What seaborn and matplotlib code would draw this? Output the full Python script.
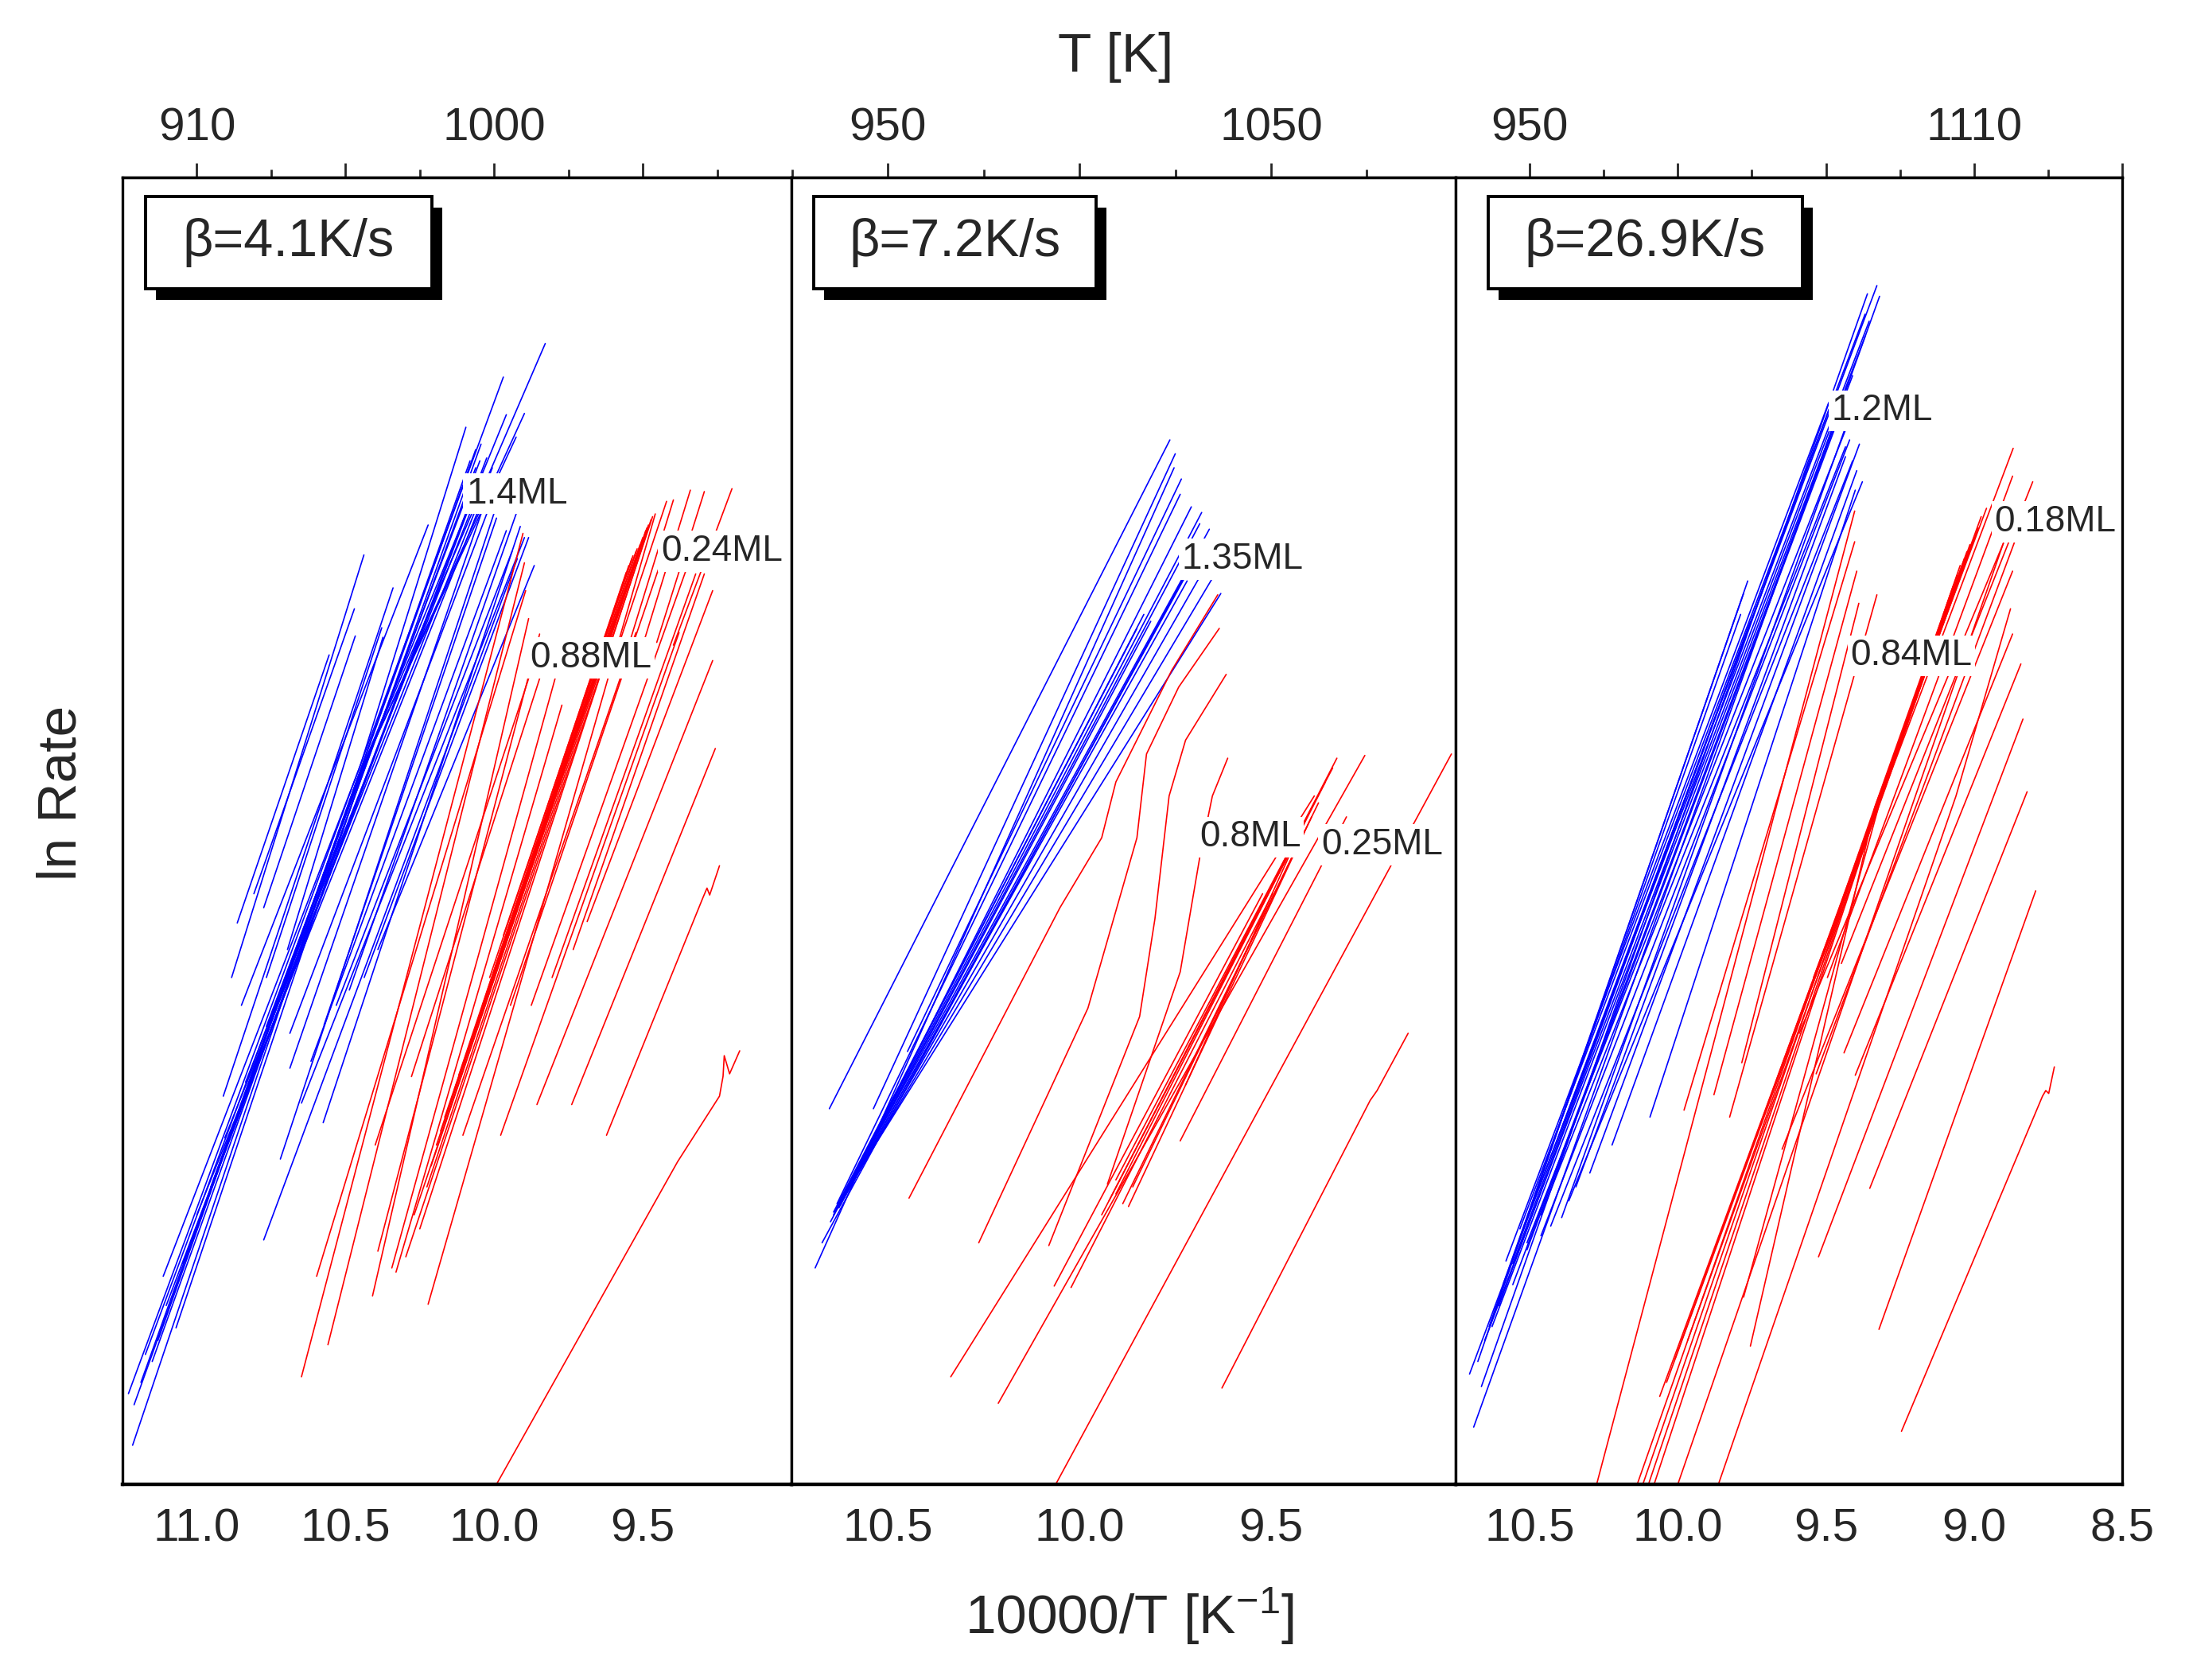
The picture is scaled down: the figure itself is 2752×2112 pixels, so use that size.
import matplotlib
matplotlib.use("Agg")
import matplotlib.pyplot as plt
import seaborn as sns
import pandas as pd
from matplotlib.patches import Rectangle

sns.set_style("white")
plt.rcParams['font.family'] = ['Liberation Sans', 'DejaVu Sans']
plt.rcParams['mathtext.default'] = 'regular'

# ---- data: x = 10000/T [1/K], y = ln rate (arbitrary units) ----
# panel 1, beta = 4.1 K/s
p1_blue_x = [
    [11.216, 10.46, 9.828], [11.230, 10.47, 9.969], [11.211, 10.44, 9.959], [11.173, 10.43, 9.898],
    [11.070, 10.42, 9.926], [11.113, 10.45, 10.095],
    [11.188, 10.062], [11.150, 10.044], [11.131, 10.081], [11.103, 10.025], [11.047, 10.039], [11.000, 10.015],
    [10.953, 10.062], [10.906, 10.006], [10.836, 10.034], [10.766, 10.048],
    [10.864, 10.555], [10.808, 10.470], [10.911, 10.340], [10.850, 10.222],
    [10.775, 10.467], [10.883, 10.438], [10.766, 10.378], [10.695, 10.374],
    [10.687, 10.044], [10.687, 10.025], [10.575, 9.912], [10.572, 9.992], [10.487, 9.926], [10.775, 9.922],
    [10.719, 10.001], [10.648, 9.898], [10.616, 9.959], [10.531, 9.940], [10.437, 9.884], [10.391, 9.865]]
p1_blue_y = [
    [0.299, 5.40, 8.729], [0.694, 5.38, 8.472], [0.609, 5.50, 8.184], [0.994, 5.55, 8.194],
    [1.197, 5.60, 8.013], [1.592, 5.50, 8.088],
    [0.780, 7.917], [0.940, 7.959], [1.100, 7.831], [1.368, 7.853], [1.688, 7.746], [2.062, 7.671],
    [2.276, 7.778], [2.650, 7.778], [3.077, 7.703], [3.504, 7.831],
    [4.295, 6.346], [4.519, 6.699], [2.970, 6.859], [3.665, 7.340],
    [4.412, 6.491], [3.878, 7.111], [3.878, 6.554], [4.092, 6.481],
    [3.184, 7.425], [3.451, 7.425], [2.767, 7.329], [3.515, 7.393], [3.782, 7.425], [1.870, 7.083],
    [2.489, 7.425], [2.917, 7.244], [3.237, 7.297], [3.665, 7.137], [3.878, 7.244], [4.092, 7.030]]
p1_red_x = [
    [10.648, 9.903], [10.559, 9.898], [10.597, 9.894], [10.409, 9.884], [10.391, 9.847], [10.344, 9.795],
    [10.330, 9.772], [10.400, 9.884], [10.278, 9.847],
    [10.222, 9.458], [10.250, 9.472], [10.226, 9.481], [10.194, 9.490], [10.166, 9.500], [10.133, 9.509],
    [10.100, 9.523], [10.062, 9.537], [10.015, 9.556], [9.969, 9.570],
    [10.297, 9.467], [10.269, 9.486], [10.212, 9.504], [10.180, 9.519], [10.119, 9.533], [10.039, 9.547],
    [10.105, 9.523], [9.978, 9.378], [9.856, 9.265], [9.739, 9.256],
    [9.622, 9.298, 9.284, 9.275, 9.242],
    [9.992, 9.383, 9.242, 9.230, 9.226, 9.208, 9.174],
    [9.945, 9.448], [9.875, 9.354], [9.805, 9.322], [9.734, 9.293], [9.687, 9.265],
    [9.594, 9.420], [9.556, 9.397], [9.500, 9.340], [9.453, 9.293], [9.397, 9.200]]
p1_red_y = [
    [0.823, 7.276], [1.068, 7.051], [1.592, 6.838], [1.442, 6.624], [1.784, 6.506], [1.656, 6.165],
    [1.624, 5.962], [2.596, 6.165], [3.120, 6.165],
    [1.378, 7.425], [1.955, 7.382], [2.276, 7.340], [2.596, 7.297], [2.810, 7.244], [3.024, 7.190],
    [3.237, 7.137], [3.504, 7.083], [3.878, 6.976], [4.199, 6.870],
    [1.741, 7.404], [2.062, 7.318], [2.436, 7.212], [2.703, 7.158], [3.130, 7.105], [3.665, 7.030],
    [2.671, 6.517], [2.671, 6.517], [2.906, 6.303], [2.906, 5.630],
    [2.671, 4.487, 4.562, 4.509, 4.733],
    [0.000, 2.468, 2.970, 3.122, 3.280, 3.141, 3.317],
    [3.665, 6.998], [3.665, 6.998], [3.878, 6.966], [4.092, 6.966], [4.306, 6.838],
    [6.335, 7.521], [6.357, 7.532], [6.421, 7.607], [6.442, 7.596], [6.421, 7.618]]

# panel 2, beta = 7.2 K/s
p2_blue_x = [
    [10.653, 9.764], [10.538, 9.750], [10.690, 9.753], [10.449, 9.734], [10.633, 9.737], [10.628, 9.708],
    [10.642, 9.681], [10.650, 9.686], [10.639, 9.661], [10.624, 9.670], [10.617, 9.719], [10.609, 9.690],
    [10.599, 9.655], [10.591, 9.631], [10.672, 9.701],
    [10.628, 9.832], [10.617, 9.814], [10.642, 9.850]]
p2_blue_y = [
    [2.874, 7.991], [2.874, 7.885], [1.656, 7.778], [3.312, 7.692], [2.147, 7.575], [2.115, 7.479],
    [2.062, 7.436], [2.009, 7.350], [2.083, 7.308], [2.137, 7.233], [2.190, 6.912], [2.222, 6.923],
    [2.276, 6.923], [2.329, 6.816], [1.848, 7.083],
    [2.147, 6.656], [2.190, 6.603], [2.083, 6.549]]
p2_red_x = [
    [10.445, 10.051, 9.942, 9.905, 9.759, 9.639],
    [10.263, 9.978, 9.850, 9.825, 9.741, 9.635],
    [10.080, 9.843, 9.803, 9.766, 9.723, 9.617],
    [9.927, 9.777, 9.737, 9.686, 9.653, 9.613],
    [10.336, 9.387], [10.212, 9.255], [10.062, 9.029],
    [9.628, 9.241, 9.223, 9.142],
    [10.066, 9.522], [10.022, 9.496], [9.737, 9.303], [9.723, 9.431],
    [9.923, 9.328], [9.905, 9.358], [9.887, 9.376], [9.872, 9.394], [9.861, 9.412], [9.942, 9.431],
    [9.905, 9.339]]
p2_red_y = [
    [2.190, 4.412, 4.947, 5.374, 6.229, 6.806],
    [1.848, 3.643, 4.947, 5.588, 6.100, 6.549],
    [1.827, 3.579, 4.327, 5.267, 5.694, 6.197],
    [2.297, 3.579, 3.921, 4.797, 5.267, 5.556],
    [0.823, 5.267], [0.620, 5.577], [0.000, 5.588],
    [0.737, 2.938, 3.013, 3.451],
    [1.517, 4.519], [1.506, 4.519], [2.628, 5.107], [3.056, 4.947],
    [2.169, 5.556], [2.222, 5.374], [2.147, 5.214], [2.126, 5.107], [2.276, 5.000], [2.062, 4.947],
    [2.329, 5.481]]

# panel 3, beta = 26.9 K/s
p3_blue_x = [
    [10.703, 9.328], [10.663, 9.360], [10.689, 9.319], [10.652, 9.368], [10.627, 9.410], [10.604, 9.467],
    [10.580, 9.491], [10.557, 9.476], [10.533, 9.368], [10.486, 9.354], [10.509, 9.401], [10.462, 9.434],
    [10.392, 9.439], [10.222, 9.396], [10.094, 9.401], [10.297, 9.387], [10.344, 9.434],
    [10.509, 9.458], [10.462, 9.420], [10.429, 9.410], [10.368, 9.377],
    [10.675, 9.764], [10.637, 9.778], [10.590, 9.788], [10.557, 9.755]]
p3_blue_y = [
    [0.844, 9.172], [0.748, 9.109], [0.438, 9.090], [1.100, 8.782], [1.207, 8.483], [1.368, 8.365],
    [1.709, 8.275], [1.528, 8.066], [1.955, 8.953], [2.169, 8.900], [1.848, 8.259], [2.062, 7.938],
    [2.041, 8.056], [2.596, 7.756], [2.810, 7.607], [2.382, 7.959], [2.276, 7.863],
    [1.795, 8.152], [1.902, 7.991], [1.976, 7.831], [2.169, 7.671],
    [0.940, 6.912], [1.207, 6.816], [1.528, 6.656], [1.688, 6.603]]
p3_red_x = [
    [10.274, 9.403], [9.979, 9.403], [9.878, 9.396], [9.784, 9.389], [9.825, 9.328],
    [10.137, 9.330, 8.958], [10.118, 9.321, 8.976], [10.099, 9.311, 8.986], [10.080, 9.307, 9.000],
    [10.009, 9.325, 9.024], [10.061, 9.316, 9.047], [10.038, 9.302, 9.071], [9.967, 9.297, 9.014],
    [9.778, 9.311, 9.033], [9.755, 9.335, 9.057],
    [10.000, 9.198, 8.901], [9.863, 9.061, 8.877],
    [9.648, 8.870], [9.533, 8.863], [9.525, 8.835], [9.352, 8.821], [9.321, 8.792],
    [9.245, 8.769, 8.758, 8.748, 8.729],
    [9.439, 8.870], [9.401, 8.842], [9.542, 8.868], [9.495, 8.870], [9.448, 8.802], [9.590, 8.901]]
p3_red_y = [
    [0.000, 7.447], [2.863, 7.212], [2.981, 6.987], [3.226, 6.741], [2.810, 6.806],
    [0.000, 5.214, 7.468], [0.000, 5.246, 7.404], [0.000, 5.288, 7.318], [0.000, 5.310, 7.244],
    [0.962, 5.224, 7.137], [0.673, 5.256, 7.030], [0.780, 5.321, 6.870], [1.100, 5.342, 7.190],
    [1.432, 5.278, 7.083], [1.058, 5.182, 6.955],
    [0.000, 5.267, 7.201], [0.000, 5.267, 6.699],
    [2.564, 6.987], [3.141, 7.212], [1.741, 5.855], [2.265, 5.299], [1.186, 4.541],
    [0.406, 2.970, 3.013, 2.991, 3.194],
    [3.301, 6.506], [3.130, 6.277], [3.878, 7.927], [3.878, 7.714], [3.985, 7.671], [3.451, 7.201]]

heating_rates = ["β=4.1K/s", "β=7.2K/s", "β=26.9K/s"]
x_limits = [(11.25, 9.0), (10.752, 9.018), (10.75, 8.5)]
major_ticks = [[11.0, 10.5, 10.0, 9.5], [10.5, 10.0, 9.5], [10.5, 10.0, 9.5, 9.0, 8.5]]
minor_ticks = [[10.75, 10.25, 9.75, 9.25], [10.75, 10.25, 9.75, 9.25], [10.25, 9.75, 9.25, 8.75]]
# top axis: temperature labels at some of the 10000/T ticks
top_labels = [{11.0: "910", 10.0: "1000"}, {10.5: "950", 9.5: "1050"}, {10.5: "950", 9.0: "1110"}]
# coverage labels: (text, x, y)
coverage_labels = [
    [("1.4ML", 10.094, 7.58), ("0.24ML", 9.439, 7.139), ("0.88ML", 9.880, 6.324)],
    [("1.35ML", 9.733, 7.078), ("0.8ML", 9.686, 4.953), ("0.25ML", 9.369, 4.894)],
    [("1.2ML", 9.482, 8.215), ("0.18ML", 8.931, 7.364), ("0.84ML", 9.417, 6.340)],
]
panel_data = [(p1_blue_x, p1_blue_y, p1_red_x, p1_red_y),
              (p2_blue_x, p2_blue_y, p2_red_x, p2_red_y),
              (p3_blue_x, p3_blue_y, p3_red_x, p3_red_y)]


def to_frame(xs, ys, family):
    rows = []
    for i, (lx, ly) in enumerate(zip(xs, ys)):
        for x, y in zip(lx, ly):
            rows.append({"x": x, "y": y, "line": f"{family}{i}", "family": family})
    return pd.DataFrame(rows)


fig = plt.figure(figsize=(13.76, 10.56), dpi=200)
lefts = [0.05596, 0.36155, 0.66497]
widths = [0.30559, 0.30342, 0.30451]
bottom, height = 0.11648, 0.77793
# label boxes in axes fraction: (left, width)
box_pos = [(0.0345, 0.428), (0.0335, 0.425), (0.0489, 0.471)]

for k in range(3):
    ax = fig.add_axes([lefts[k], bottom, widths[k], height])
    bx, by, rx, ry = panel_data[k]
    df = pd.concat([to_frame(bx, by, "blue"), to_frame(rx, ry, "red")], ignore_index=True)
    sns.lineplot(data=df, x="x", y="y", hue="family", units="line", estimator=None, sort=False,
                 palette={"blue": "#0000ff", "red": "#ff0000"}, linewidth=0.6, legend=False, ax=ax)
    ax.set_xlim(*x_limits[k])
    ax.set_ylim(0, 10)
    ax.set_xlabel("")
    ax.set_ylabel("")
    ax.set_yticks([])
    ax.set_xticks(major_ticks[k])
    ax.set_xticklabels([f"{v:.1f}" for v in major_ticks[k]])
    ax.set_xticks(minor_ticks[k], minor=True)
    ax.tick_params(axis="x", which="major", direction="out", length=6.5, width=1.0, labelsize=21, pad=4)
    ax.tick_params(axis="x", which="minor", direction="out", length=3.6, width=1.0)
    for s in ax.spines.values():
        s.set_linewidth(1.2)
        s.set_color("black")
    ax.spines["bottom"].set_linewidth(1.6)

    sec = ax.secondary_xaxis("top")
    sec.set_xticks(major_ticks[k])
    sec.set_xticklabels([top_labels[k].get(v, "") for v in major_ticks[k]])
    sec.set_xticks(minor_ticks[k], minor=True)
    sec.tick_params(axis="x", which="major", direction="out", length=6.5, width=1.0, labelsize=21, pad=6)
    sec.tick_params(axis="x", which="minor", direction="out", length=3.6, width=1.0)
    sec.spines["top"].set_linewidth(1.2)

    # heating rate box with drop shadow
    x0, w = box_pos[k]
    ax.add_patch(Rectangle((x0 + 0.0155, 0.9148 - 0.0085), w, 0.0706, transform=ax.transAxes,
                           facecolor="black", edgecolor="none", zorder=5))
    ax.add_patch(Rectangle((x0, 0.9148), w, 0.0706, transform=ax.transAxes,
                           facecolor="white", edgecolor="black", linewidth=1.4, zorder=6))
    ax.text(x0 + w / 2, 0.9501, heating_rates[k], transform=ax.transAxes, ha="center", va="center",
            fontsize=24, zorder=7)

    for txt, tx, ty in coverage_labels[k]:
        ax.text(tx, ty, txt, fontsize=16.5, ha="left", va="center", zorder=4,
                bbox=dict(boxstyle="square,pad=0.08", facecolor="white", edgecolor="none"))

fig.text(0.5098, 0.966, "T [K]", ha="center", va="center", fontsize=25)
fig.text(0.516, 0.038, r"10000/T [K$^{-1}$]", ha="center", va="center", fontsize=25)
fig.text(0.028, 0.528, "ln Rate", ha="center", va="center", rotation=90, fontsize=25)

fig.savefig("out.png", dpi=200, facecolor="white")
